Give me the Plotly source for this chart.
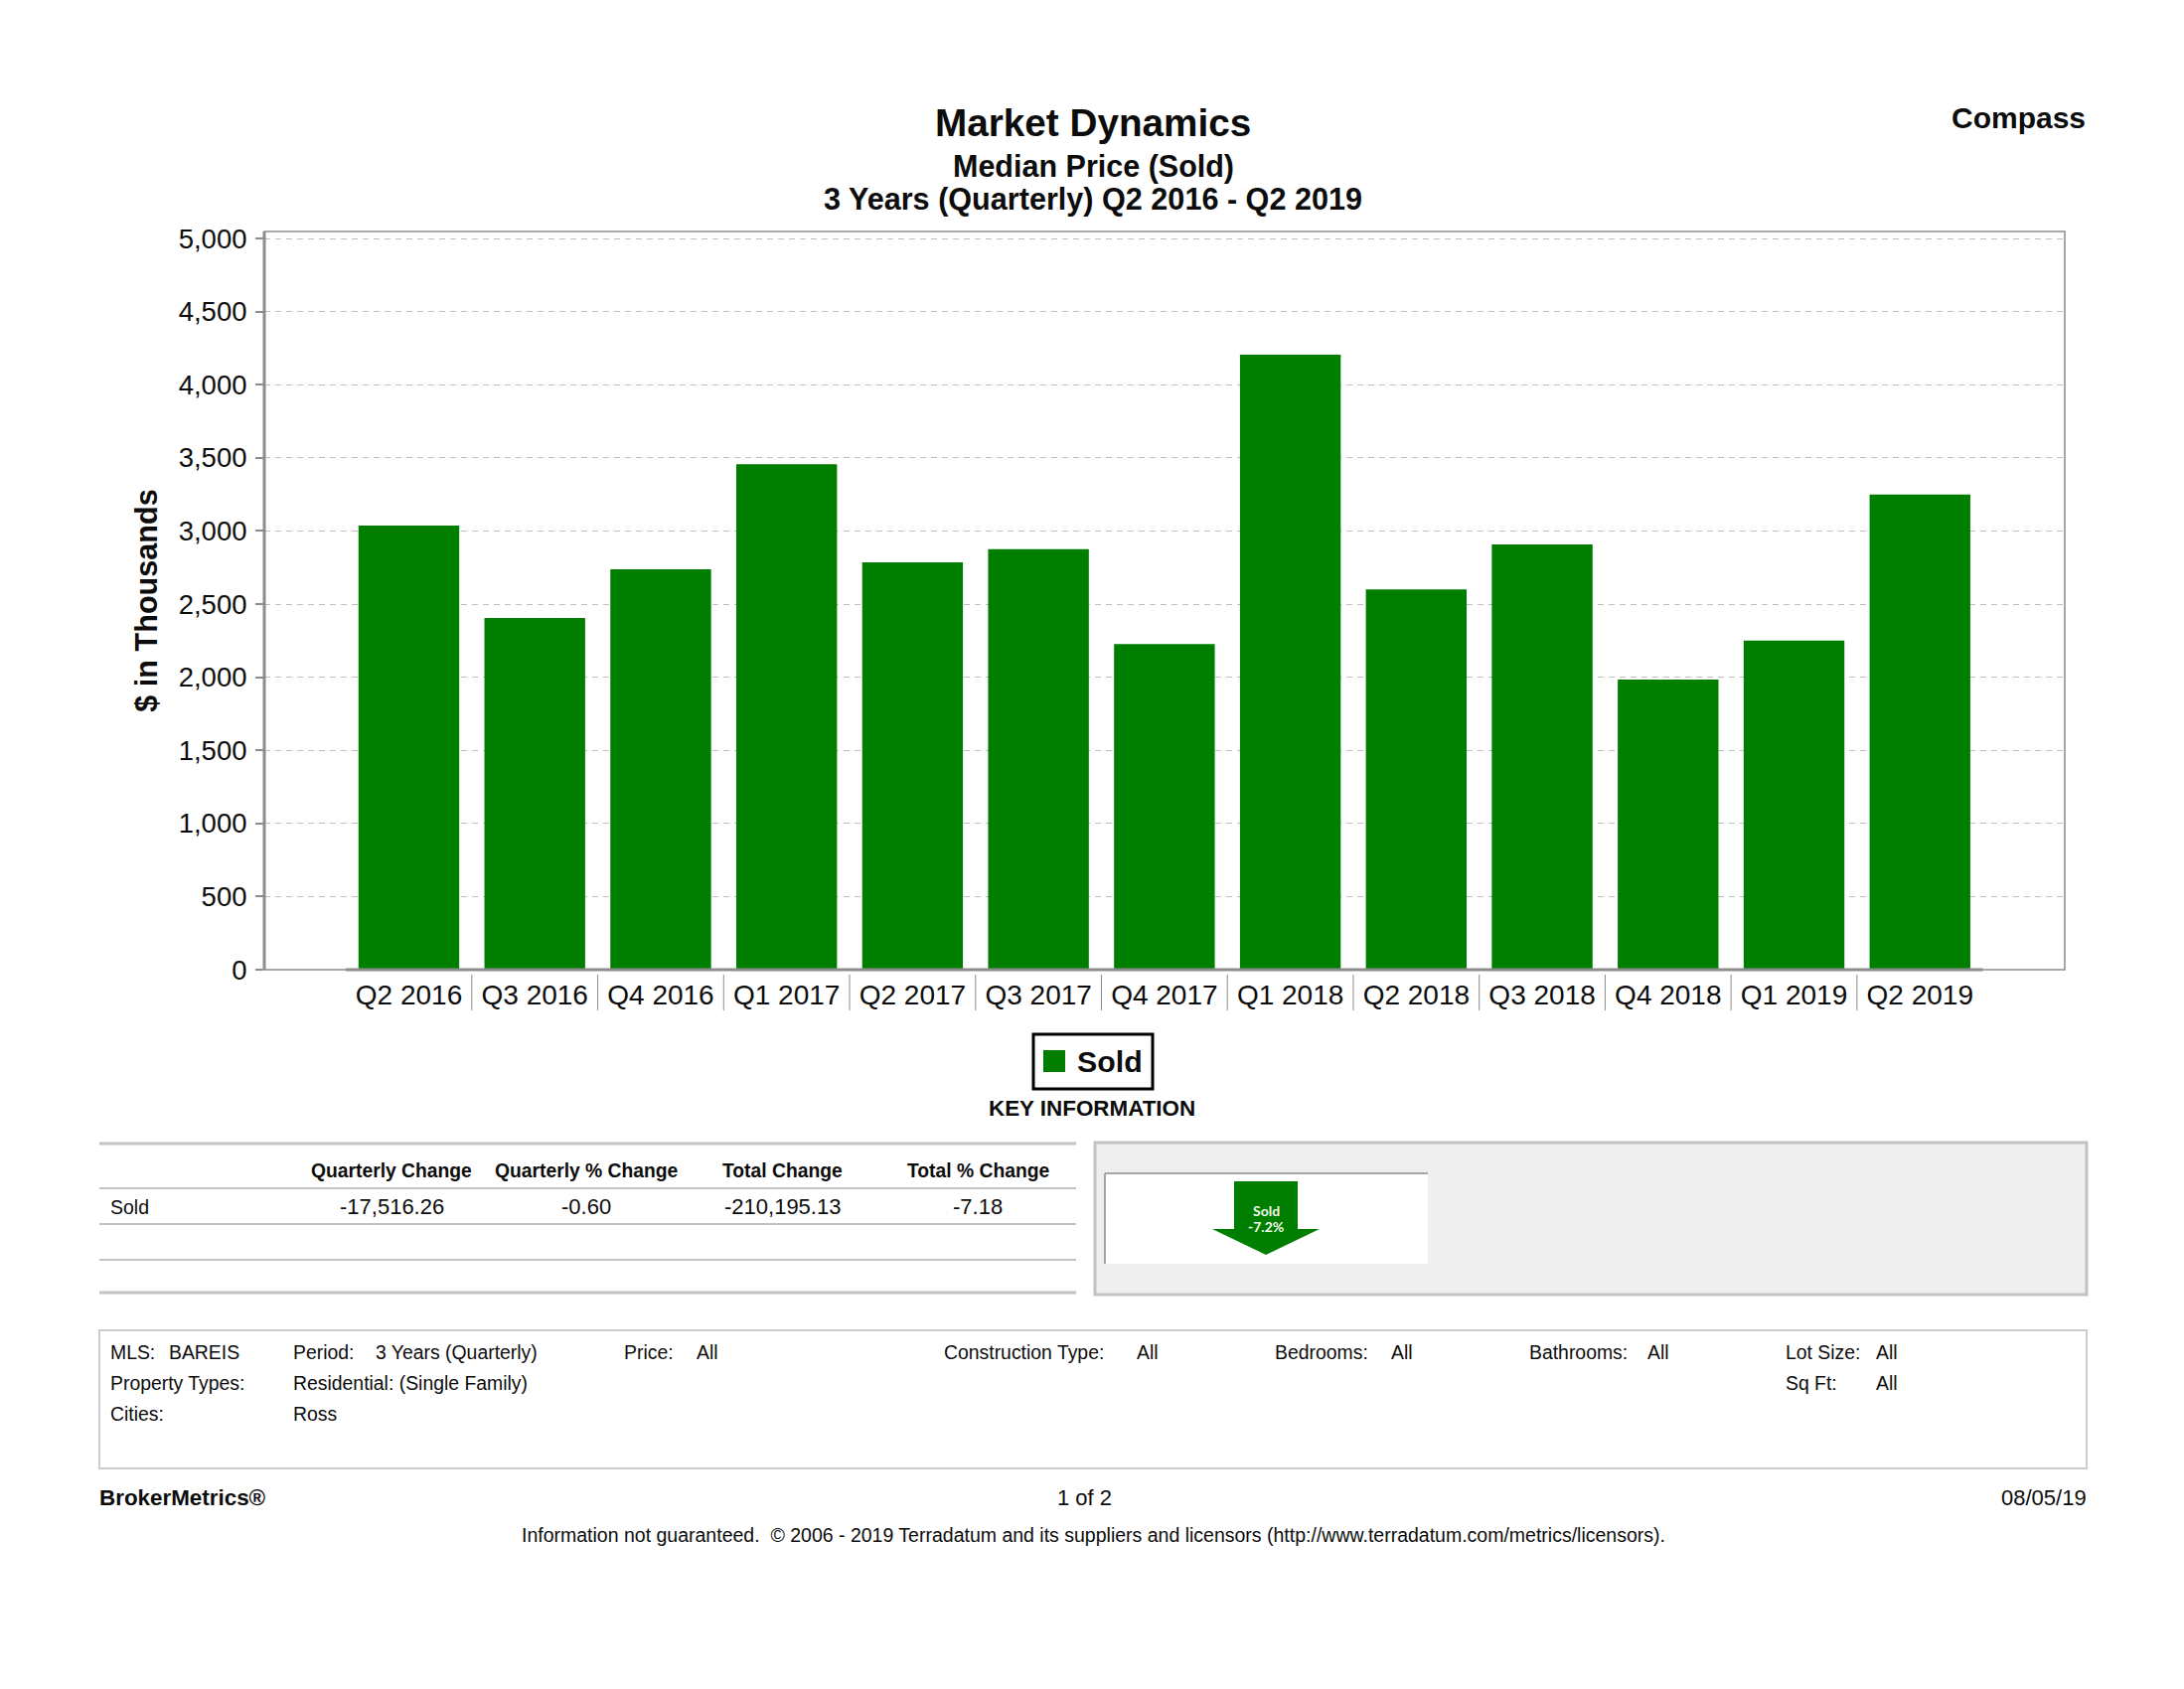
import plotly.graph_objects as go

quarters = ["Q2 2016", "Q3 2016", "Q4 2016", "Q1 2017", "Q2 2017", "Q3 2017", "Q4 2017",
            "Q1 2018", "Q2 2018", "Q3 2018", "Q4 2018", "Q1 2019", "Q2 2019"]
sold = [3037, 2405, 2738, 3456, 2785, 2876, 2226, 4205, 2600, 2908, 1984, 2251, 3249]
y_ticks = [0, 500, 1000, 1500, 2000, 2500, 3000, 3500, 4000, 4500, 5000]

table_headers = ["Quarterly Change", "Quarterly % Change", "Total Change", "Total % Change"]
table_row_name = "Sold"
table_row_values = ["-17,516.26", "-0.60", "-210,195.13", "-7.18"]

W, H = 2198, 1700
L, R, T, B = 266, 2078, 233, 976
GREEN = "#007e00"
INK = "#0c0c0c"
FONT = "Liberation Sans"
RULE = "#c2c2c2"


def px(x):
    return (x - L) / (R - L)


def py(y):
    return (B - y) / (B - T)


annotations = []
shapes = []


def txt(x, base, s, size, anchor="left", bold=False, color=INK, family=FONT):
    annotations.append(dict(
        x=px(x), y=py(base - 0.345 * size), xref="paper", yref="paper", text=s, showarrow=False,
        xanchor=anchor, yanchor="middle", borderpad=0, borderwidth=0,
        font=dict(family=family, size=size, color=color, weight=700 if bold else 400),
    ))


def line(x0, y0, x1, y1, color, width):
    shapes.append(dict(type="line", xref="paper", yref="paper", x0=px(x0), y0=py(y0), x1=px(x1), y1=py(y1),
                       line=dict(color=color, width=width)))


def rect(x0, y0, x1, y1, fill=None, color=None, width=0):
    shapes.append(dict(type="rect", xref="paper", yref="paper", x0=px(x0), y0=py(y0), x1=px(x1), y1=py(y1),
                       fillcolor=fill or "rgba(0,0,0,0)",
                       line=dict(color=color or "rgba(0,0,0,0)", width=width)))


# plot frame
rect(L, T, R, B, color="#8c8c8c", width=1.5)
line(L, T, L, B, "#8c8c8c", 3)
# darker baseline under the categories, and separators between the category labels
shapes.append(dict(type="line", xref="x", yref="paper", x0=-0.5, x1=12.5, y0=0, y1=0,
                   line=dict(color="#8c8c8c", width=3)))
for i in range(len(quarters) - 1):
    shapes.append(dict(type="line", xref="x", yref="paper", x0=i + 0.5, x1=i + 0.5, y0=py(981), y1=py(1017),
                       line=dict(color="#8c8c8c", width=1)))

# heading
txt(1100, 137, "Market Dynamics", 38.7, "center", True)
txt(1100, 178, "Median Price (Sold)", 30.5, "center", True)
txt(1100, 211, "3 Years (Quarterly) Q2 2016 - Q2 2019", 30.6, "center", True)
txt(2099, 129, "Compass", 30, "right", True)

# legend
rect(1040, 1041, 1160, 1096, color="#000000", width=3)
rect(1050, 1057, 1072, 1079, fill=GREEN)
txt(1084, 1079, "Sold", 30.3, "left", True)
txt(1099, 1123, "KEY INFORMATION", 22.4, "center", True)

# key information table
for y, w in [(1151, 3), (1196, 2), (1232, 2), (1268, 2), (1301, 3)]:
    line(100, y, 1083, y, RULE, w)
txt(111, 1222, table_row_name, 19.5)
for cx, h, v in zip([394, 590, 787, 984], table_headers, table_row_values):
    txt(cx, 1185, h, 19.3, "center", True)
    txt(cx, 1222, v, 22, "center")

# arrow panel
rect(1102, 1150, 2100, 1303, fill="#efefef", color=RULE, width=3)
rect(1112, 1181, 1437, 1272, fill="#ffffff")
line(1112, 1181, 1437, 1181, "#8a8a8a", 1.5)
line(1112, 1181, 1112, 1272, "#8a8a8a", 1.5)
arrow = [(1242, 1189), (1306, 1189), (1306, 1237), (1328, 1237), (1274, 1263), (1220, 1237), (1242, 1237)]
shapes.append(dict(type="path", xref="paper", yref="paper", fillcolor=GREEN, line=dict(width=0),
                   path="M" + "L".join(f"{px(a)},{py(b)}" for a, b in arrow) + "Z"))
txt(1274, 1223, "Sold", 14, "center", True, "#f2f8ea", "Lato")
txt(1274, 1239, "-7.2%", 14, "center", True, "#f2f8ea", "Lato")

# criteria box
rect(100, 1339, 2100, 1478, color="#cccccc", width=2)
criteria = [
    (111, 1368, "MLS:"), (170, 1368, "BAREIS"), (295, 1368, "Period:"), (378, 1368, "3 Years (Quarterly)"),
    (628, 1368, "Price:"), (701, 1368, "All"), (950, 1368, "Construction Type:"), (1144, 1368, "All"),
    (1283, 1368, "Bedrooms:"), (1400, 1368, "All"), (1539, 1368, "Bathrooms:"), (1658, 1368, "All"),
    (1797, 1368, "Lot Size:"), (1888, 1368, "All"),
    (111, 1399, "Property Types:"), (295, 1399, "Residential: (Single Family)"),
    (1797, 1399, "Sq Ft:"), (1888, 1399, "All"),
    (111, 1430, "Cities:"), (295, 1430, "Ross"),
]
for x, y, s in criteria:
    txt(x, y, s, 19.4)

# footer
txt(100, 1515, "BrokerMetrics®", 22.4, "left", True)
txt(1091, 1515, "1 of 2", 22, "center")
txt(2100, 1515, "08/05/19", 22, "right")
txt(1100, 1552, "Information not guaranteed.  © 2006 - 2019 Terradatum and its suppliers and licensors "
                "(http://www.terradatum.com/metrics/licensors).", 19.5, "center")

fig = go.Figure(go.Bar(x=quarters, y=sold, name="Sold", marker=dict(color=GREEN, line=dict(width=0)), width=0.8,
                       showlegend=False))
fig.update_layout(
    width=W, height=H, autosize=False, paper_bgcolor="white", plot_bgcolor="white",
    margin=dict(l=L, r=W - R, t=T, b=H - B, pad=0), showlegend=False,
    annotations=annotations, shapes=shapes,
    font=dict(family=FONT, color=INK),
    xaxis=dict(type="category", categoryorder="array", categoryarray=quarters, range=[-1.148, 13.15],
               showgrid=False, showline=False, zeroline=False, ticks="", ticklabelstandoff=6,
               tickfont=dict(size=28, family=FONT, color=INK), tickangle=0),
    yaxis=dict(range=[0, 5048], tickvals=y_ticks, tickformat=",d", showline=False, zeroline=False,
               ticks="outside", ticklen=8, tickwidth=2, tickcolor="#8c8c8c", ticklabelstandoff=3,
               showgrid=True, gridcolor="#bdbdbd", gridwidth=1.4, griddash="6px,5px",
               tickfont=dict(size=27.5, family=FONT, color=INK),
               title=dict(text="$ in Thousands", standoff=11,
                          font=dict(size=30.6, family=FONT, color=INK, weight=700))),
)
fig.write_html("out.html", config=dict(displayModeBar=False),
               post_script="document.body.style.margin='0';document.body.style.overflow='hidden';")
